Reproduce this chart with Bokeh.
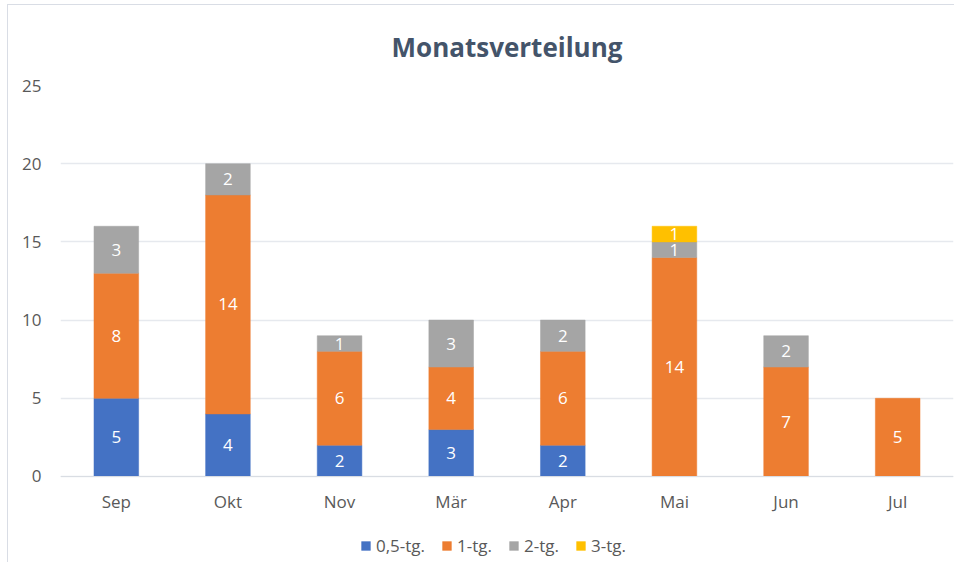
from bokeh.plotting import figure
from bokeh.models import ColumnDataSource, LabelSet, Legend, LegendItem, FixedTicker
from bokeh.core.properties import value
from bokeh.embed import file_html
from bokeh.resources import INLINE

months = ["Sep", "Okt", "Nov", "Mär", "Apr", "Mai", "Jun", "Jul"]
half_day = [5, 4, 2, 3, 2, 0, 0, 0]
one_day = [8, 14, 6, 4, 6, 14, 7, 5]
two_day = [3, 2, 1, 3, 2, 1, 2, 0]
three_day = [0, 0, 0, 0, 0, 1, 0, 0]
series_names = ["0,5-tg.", "1-tg.", "2-tg.", "3-tg."]
series_colors = ["#4472C4", "#ED7D31", "#A5A5A5", "#FFC000"]
y_ticks = [0, 5, 10, 15, 20, 25]

FONT = "Open Sans"
TXT = "#595959"

series = [half_day, one_day, two_day, three_day]

# y range extends below 0 to leave room for the legend inside the frame
p = figure(x_range=months, y_range=(-5.5, 25), frame_width=893, frame_height=477,
           output_backend="svg", toolbar_location=None,
           min_border_left=52, min_border_right=1, min_border_top=80, min_border_bottom=0)
p.background_fill_color = "white"
p.border_fill_color = "white"
p.outline_line_color = None

renderers = []
bottoms = [0] * len(months)
for vals, name, col in zip(series, series_names, series_colors):
    tops = [b + v for b, v in zip(bottoms, vals)]
    keep = [i for i, v in enumerate(vals) if v]
    src = ColumnDataSource(dict(
        m=[months[i] for i in keep],
        bottom=[bottoms[i] for i in keep],
        top=[tops[i] for i in keep],
        mid=[(bottoms[i] + tops[i]) / 2 for i in keep],
        lab=[str(vals[i]) for i in keep]))
    r = p.vbar(x="m", bottom="bottom", top="top", width=0.4, source=src,
               fill_color=col, line_color=col, line_width=0.5)
    renderers.append(r)
    p.add_layout(LabelSet(x="m", y="mid", text="lab", source=src,
                          text_color="white", text_font=value(FONT), text_font_size="17px",
                          text_align="center", text_baseline="middle"))
    bottoms = tops

p.title.text = "Monatsverteilung"
p.title.align = "center"
p.title.text_font = FONT
p.title.text_font_size = "26px"
p.title.text_font_style = "bold"
p.title.text_color = "#44546A"
p.title.offset = -30
p.title.standoff = 41

p.yaxis.ticker = FixedTicker(ticks=y_ticks)
p.yaxis.axis_line_color = None
p.yaxis.major_tick_line_color = None
p.yaxis.minor_tick_line_color = None
p.yaxis.major_label_standoff = 13
p.yaxis.major_label_text_font = FONT
p.yaxis.major_label_text_font_size = "17px"
p.yaxis.major_label_text_color = TXT

p.xaxis.fixed_location = 0
p.xaxis.axis_line_color = "#D9DDE3"
p.xaxis.major_tick_line_color = None
p.xaxis.minor_tick_line_color = None
p.xaxis.major_label_standoff = 8
p.xaxis.major_label_text_font = FONT
p.xaxis.major_label_text_font_size = "17px"
p.xaxis.major_label_text_color = TXT

p.xgrid.grid_line_color = None
p.ygrid.grid_line_color = "#E6E9EE"
p.ygrid.grid_line_width = 1.5

legend = Legend(items=[LegendItem(label=n, renderers=[r]) for n, r in zip(series_names, renderers)],
                orientation="horizontal", location=(300, 5),
                label_text_font=FONT, label_text_font_size="17px", label_text_color=TXT,
                glyph_width=11, glyph_height=11, label_standoff=5, spacing=16,
                border_line_color=None, background_fill_alpha=0, margin=0, padding=2)
p.add_layout(legend)

p.styles = {"border-left": "1px solid #D9DDE5", "border-top": "1px solid #D9DDE5",
            "margin-left": "7px", "margin-top": "4px"}

open("out.html", "w").write(file_html(p, INLINE))
